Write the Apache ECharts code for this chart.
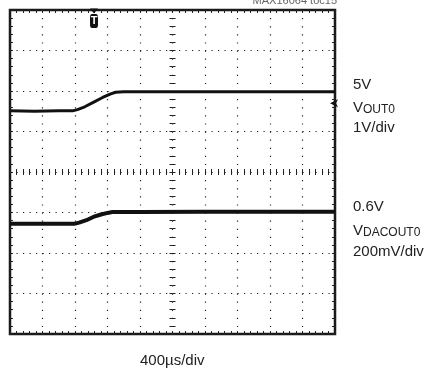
<!DOCTYPE html>
<html>
<head>
<meta charset="utf-8">
<style>
  html, body { margin: 0; padding: 0; background: #fff; }
  #chart { width: 424px; height: 374px; }
</style>
<script src="https://cdn.jsdelivr.net/npm/echarts@6/dist/echarts.min.js"></script>
</head>
<body>
<div id="chart"></div>
<script>
// time in µs (400µs/div, centre = 0), amplitude in screen divisions
var timeTicks = [-2000, -1600, -1200, -800, -400, 0, 400, 800, 1200, 1600, 2000];
var voutData = [
  [-2000, 1.51], [-1700, 1.50], [-1400, 1.51], [-1230, 1.51], [-1170, 1.54],
  [-1080, 1.61], [-975, 1.72], [-860, 1.84], [-760, 1.93], [-700, 1.97],
  [-600, 1.98], [-200, 1.98], [400, 1.98], [1200, 1.98], [2000, 1.98]
];
var dacData = [
  [-2000, -1.28], [-1600, -1.28], [-1210, -1.28], [-1150, -1.25], [-1060, -1.19],
  [-975, -1.11], [-880, -1.05], [-800, -1.01], [-740, -0.99], [-400, -0.985],
  [400, -0.98], [1200, -0.98], [2000, -0.98]
];
var triggerTime = -966;
var vout0Ground = 1.7;

var ink = '#222';
var font = 'Liberation Sans, Arial, sans-serif';

var myChart = echarts.init(document.getElementById('chart'));

function xAx(pos, zero, inside, split) {
  return {
    type: 'value', min: -2000, max: 2000, interval: 400, position: pos,
    axisLine: { show: false, onZero: zero },
    axisLabel: { show: false },
    axisTick: { show: true, inside: inside, length: 3, lineStyle: { color: ink, width: 1 } },
    minorTick: { show: true, splitNumber: 5, length: 3, lineStyle: { color: ink, width: 1 } },
    splitLine: { show: split, lineStyle: { color: ink, width: 1.2, type: [1.2, 6.9] } }
  };
}
function yAx(pos, zero, inside, split) {
  return {
    type: 'value', min: -4, max: 4, interval: 1, position: pos,
    axisLine: { show: false, onZero: zero },
    axisLabel: { show: false },
    axisTick: { show: true, inside: inside, length: 3, lineStyle: { color: ink, width: 1 } },
    minorTick: { show: true, splitNumber: 5, length: 3, lineStyle: { color: ink, width: 1 } },
    splitLine: { show: split, lineStyle: { color: ink, width: 1.2, type: [1.2, 5.3] } }
  };
}

var option = {
  backgroundColor: '#fff',
  animation: false,
  grid: {
    left: 10, top: 10, width: 325, height: 324,
    show: true, borderColor: '#1a1a1a', borderWidth: 2.5, backgroundColor: '#fff'
  },
  xAxis: [
    xAx('bottom', false, true, true),
    xAx('top', false, true, false),
    xAx('bottom', true, false, false),
    xAx('top', true, false, false)
  ],
  yAxis: [
    yAx('left', false, true, true),
    yAx('right', false, true, false),
    yAx('left', true, false, false),
    yAx('right', true, false, false)
  ],
  series: [
    {
      name: 'VOUT0', type: 'line', data: voutData, showSymbol: false,
      lineStyle: { color: '#111', width: 3 },
      markPoint: {
        silent: true,
        data: [
          { coord: [triggerTime, 4], symbol: 'triangle', symbolRotate: 180, symbolSize: [8, 5],
            symbolOffset: [0, 1], itemStyle: { color: '#111' }, label: { show: false } },
          { coord: [triggerTime, 4], symbol: 'roundRect', symbolSize: [8, 14],
            symbolOffset: [0, 11], itemStyle: { color: '#111' },
            label: { show: true, position: 'inside', formatter: 'T', color: '#fff', fontSize: 11,
                     fontWeight: 'bold', fontFamily: font } },
          { coord: [2000, vout0Ground], symbol: 'arrow', symbolRotate: 90, symbolSize: [6, 8],
            symbolOffset: [-5, 0], itemStyle: { color: '#111' }, label: { show: false } }
        ]
      }
    },
    {
      name: 'VDACOUT0', type: 'line', data: dacData, showSymbol: false,
      lineStyle: { color: '#111', width: 4 }
    }
  ],
  graphic: [
    { type: 'text', right: 87, top: -5, style: { text: 'MAX16064 toc15', fill: '#666', font: '11px ' + font } },
    { type: 'text', left: 353, top: 77, style: { text: '5V', fill: ink, font: '15px ' + font } },
    { type: 'text', left: 353, top: 100, style: { text: 'V', fill: ink, font: '15px ' + font } },
    { type: 'text', left: 363, top: 104, style: { text: 'OUT0', fill: ink, font: '12px ' + font } },
    { type: 'text', left: 353, top: 120, style: { text: '1V/div', fill: ink, font: '15px ' + font } },
    { type: 'text', left: 353, top: 199, style: { text: '0.6V', fill: ink, font: '15px ' + font } },
    { type: 'text', left: 353, top: 223, style: { text: 'V', fill: ink, font: '15px ' + font } },
    { type: 'text', left: 363, top: 227, style: { text: 'DACOUT0', fill: ink, font: '12px ' + font } },
    { type: 'text', left: 353, top: 244, style: { text: '200mV/div', fill: ink, font: '15px ' + font } },
    { type: 'text', left: 140, top: 353, style: { text: '400µs/div', fill: ink, font: '15px ' + font } }
  ]
};

myChart.setOption(option);
window.onresize = function () { myChart.resize(); };
</script>
</body>
</html>
